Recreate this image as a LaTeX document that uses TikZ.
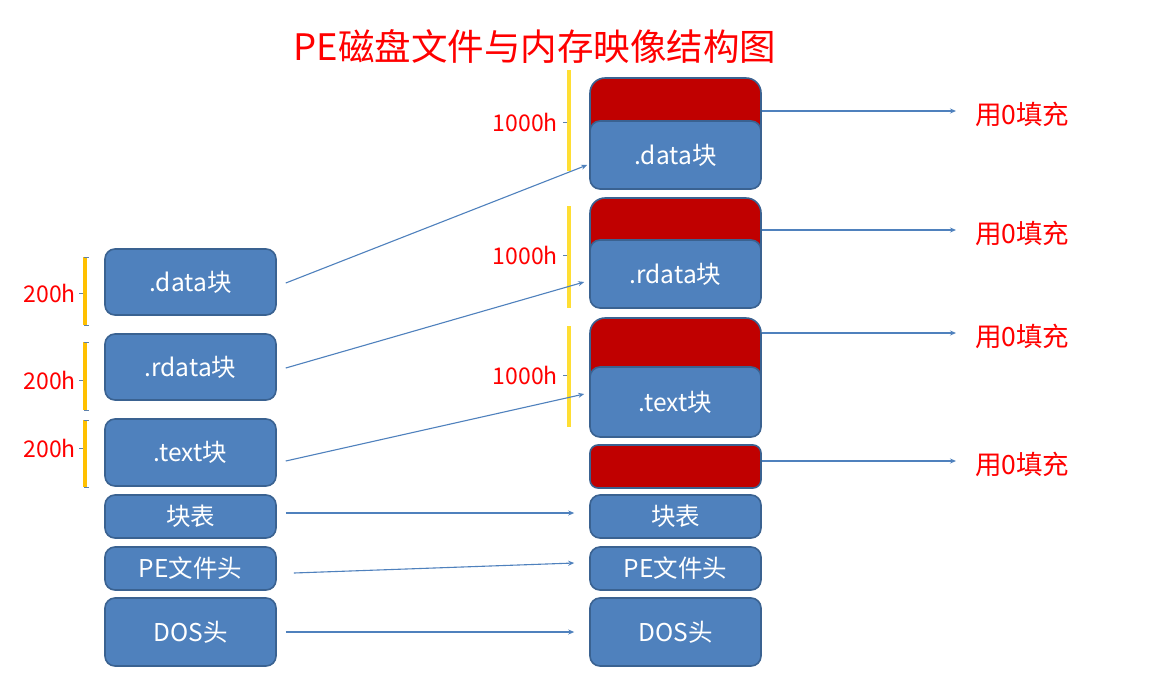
\documentclass[tikz,border=0pt]{standalone}
\usepackage{fontspec}
\setmainfont{Noto Sans CJK SC}
\usetikzlibrary{arrows.meta,positioning}
\definecolor{secblue}{HTML}{4F81BD}
\definecolor{secedge}{HTML}{3A6291}
\definecolor{padred}{HTML}{C00000}
\definecolor{brkgold}{HTML}{FFC000}
\tikzset{
  sec/.style={draw=secedge, line width=1.6pt, fill=secblue, rounded corners=10pt, text=white,
              font=\fontsize{24.5}{28}\selectfont, minimum width=171pt, inner sep=0pt},
  pad/.style={sec, fill=padred, rounded corners=15pt},
  link/.style={-{Stealth[length=6pt,width=5pt]}, secblue, line width=1.1pt},
  brk/.style={brkgold, line width=3.4pt},
  tick/.style={secblue!70!gray, line width=1pt},
  size/.style={text=red, font=\fontsize{23}{26}\selectfont, inner sep=0pt, anchor=east},
  zero/.style={text=red, font=\fontsize{26.5}{30}\selectfont, inner sep=0pt, anchor=west}
}

\begin{document}
\begin{tikzpicture}[x=1pt, y=-1pt]
\fill[white] (0,0) rectangle (1162,697);
\useasboundingbox (0,0) rectangle (1162,697);
\node[text=red, font=\fontsize{36.5}{40}\selectfont, inner sep=0pt] (title) at (535,46) {PE磁盘文件与内存映像结构图};

% file on disk
\node[sec, minimum height=66pt] (ldata)  at (190.5,282)   {.data块};
\node[sec, minimum height=66pt] (lrdata) at (190.5,367)   {.rdata块};
\node[sec, minimum height=67pt] (ltext)  at (190.5,452.5) {.text块};
\node[sec, minimum height=43pt] (ltable) at (190.5,516.5) {块表};
\node[sec, minimum height=43pt] (lpe)    at (190.5,568.5) {PE文件头};
\node[sec, minimum height=68pt] (ldos)   at (190.5,632)   {DOS头};

% image in memory
\node[pad, minimum height=82pt] (pad1) at (675.5,119) {};
\node[sec, minimum height=68pt] (rdata) at (675.5,155) {.data块};
\node[pad, minimum height=82pt] (pad2) at (675.5,239) {};
\node[sec, minimum height=68pt] (rrdata) at (675.5,274) {.rdata块};
\node[pad, minimum height=82pt] (pad3) at (675.5,359) {};
\node[sec, minimum height=70pt] (rtext) at (675.5,402) {.text块};
\node[pad, minimum height=43pt, rounded corners=8pt] (pad4) at (675.5,466.5) {};
\node[sec, minimum height=43pt] (rtable) at (675.5,516.5) {块表};
\node[sec, minimum height=43pt] (rpe)    at (675.5,568.5) {PE文件头};
\node[sec, minimum height=68pt] (rdos)   at (675.5,632)   {DOS头};

% section sizes
\foreach \top/\bot/\mid/\name in {257/325/293/s1, 342/410/380/s2, 420/487/448/s3} {
  \draw[brk] (85,\top) -- (85,\bot);
  \draw[tick] (79,\mid) -- (83,\mid) (84,\top) -- (89,\top) (84,\bot) -- (89,\bot);
  \node[size] (\name) at (76,\mid) {200h};
}
\foreach \top/\bot/\mid/\name in {70/171/122/m1, 206/308/255/m2, 326/427/375/m3} {
  \draw[brk, brkgold!65!yellow!80!white] (569,\top) -- (569,\bot);
  \draw[tick] (563,\mid) -- (567,\mid);
  \node[size] (\name) at (558,\mid) {1000h};
}

% mapping
\draw[link] ([xshift=9pt,yshift=-1pt]ldata.east) -- ([xshift=-2pt,yshift=-10pt]rdata.west);
\draw[link] ([xshift=9pt,yshift=-1pt]lrdata.east) -- ([xshift=-5pt,yshift=-8pt]rrdata.west);
\draw[link] ([xshift=9pt,yshift=-8.5pt]ltext.east) -- ([xshift=-5pt,yshift=8pt]rtext.west);
\draw[link] ([xshift=9pt,yshift=3.5pt]ltable.east) -- ([xshift=-15pt,yshift=3.5pt]rtable.west);
\draw[link] ([xshift=17pt,yshift=-4.5pt]lpe.east) -- ([xshift=-15pt,yshift=5.5pt]rpe.west);
\draw[link] ([xshift=9pt]ldos.east) -- ([xshift=-15pt]rdos.west);

% zero padding
\foreach \p/\dy/\y in {pad1/8/114, pad2/9/233, pad3/26/336, pad4/5.5/464} {
  \node[zero] (z\p) at (975,\y) {用0填充};
  \draw[link] ([yshift=\dy pt]\p.east) -- ([yshift=\dy pt]\p.east -| z\p.west) [shorten >=19pt];
}
\end{tikzpicture}
\end{document}
